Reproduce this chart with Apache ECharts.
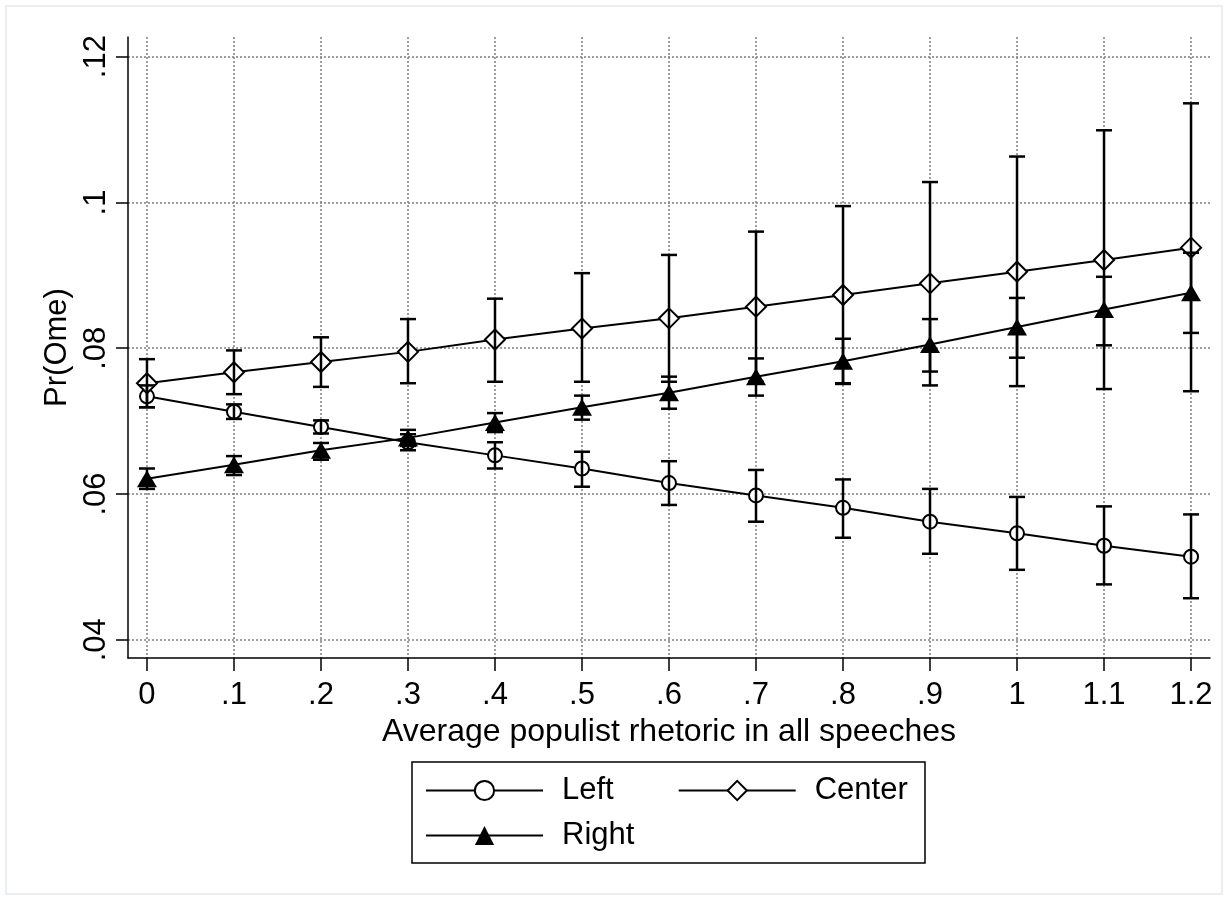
<!DOCTYPE html>
<html>
<head>
<meta charset="utf-8">
<script src="https://cdn.jsdelivr.net/npm/echarts@6/dist/echarts.min.js"></script>
<style>
html,body{margin:0;padding:0;background:#fff;}
#chart{width:1229px;height:901px;}
</style>
</head>
<body>
<div id="chart"></div>
<script>
var xValues = [0, 0.1, 0.2, 0.3, 0.4, 0.5, 0.6, 0.7, 0.8, 0.9, 1.0, 1.1, 1.2];
var xTickLabels = ['0', '.1', '.2', '.3', '.4', '.5', '.6', '.7', '.8', '.9', '1', '1.1', '1.2'];
var yTicks = [0.04, 0.06, 0.08, 0.1, 0.12];
var yTickLabels = ['.04', '.06', '.08', '.1', '.12'];

var leftMean = [0.0734, 0.0713, 0.0692, 0.0671, 0.0653, 0.0635, 0.0615, 0.0598, 0.0581, 0.0562, 0.0546, 0.0529, 0.0514];
var leftLo   = [0.0719, 0.0703, 0.0683, 0.0660, 0.0635, 0.0610, 0.0585, 0.0562, 0.0540, 0.0518, 0.0496, 0.0476, 0.0457];
var leftHi   = [0.0749, 0.0723, 0.0701, 0.0682, 0.0671, 0.0658, 0.0645, 0.0633, 0.0620, 0.0607, 0.0596, 0.0583, 0.0572];

var centerMean = [0.0752, 0.0767, 0.0781, 0.0795, 0.0812, 0.0827, 0.0841, 0.0857, 0.0873, 0.0889, 0.0905, 0.0921, 0.0938];
var centerLo   = [0.0719, 0.0737, 0.0747, 0.0752, 0.0754, 0.0754, 0.0754, 0.0754, 0.0751, 0.0749, 0.0748, 0.0744, 0.0741];
var centerHi   = [0.0785, 0.0797, 0.0815, 0.0840, 0.0868, 0.0903, 0.0928, 0.0960, 0.0995, 0.1028, 0.1063, 0.1099, 0.1136];

var rightMean = [0.0621, 0.0640, 0.0660, 0.0677, 0.0698, 0.0719, 0.0739, 0.0761, 0.0782, 0.0805, 0.0829, 0.0853, 0.0876];
var rightLo   = [0.0607, 0.0626, 0.0647, 0.0666, 0.0685, 0.0702, 0.0717, 0.0735, 0.0752, 0.0768, 0.0787, 0.0804, 0.0821];
var rightHi   = [0.0635, 0.0652, 0.0670, 0.0688, 0.0711, 0.0735, 0.0761, 0.0786, 0.0813, 0.0840, 0.0869, 0.0898, 0.0931];

var FONT = '"Liberation Sans", Arial, Helvetica, sans-serif';
var FS = 31;

function pairs(ys) { return xValues.map(function (x, i) { return [x, ys[i]]; }); }
function bars(lo, hi) { return xValues.map(function (x, i) { return [x, lo[i], hi[i]]; }); }

function renderErr(params, api) {
  var x = api.value(0);
  var p1 = api.coord([x, api.value(1)]);
  var p2 = api.coord([x, api.value(2)]);
  var hw = 8;
  var st = { stroke: '#000', lineWidth: 2.5, fill: null };
  return {
    type: 'group',
    children: [
      { type: 'line', shape: { x1: p1[0], y1: p1[1], x2: p2[0], y2: p2[1] }, style: st },
      { type: 'line', shape: { x1: p1[0] - hw, y1: p1[1], x2: p1[0] + hw, y2: p1[1] }, style: st },
      { type: 'line', shape: { x1: p2[0] - hw, y1: p2[1], x2: p2[0] + hw, y2: p2[1] }, style: st }
    ]
  };
}

var chart = echarts.init(document.getElementById('chart'), null, { renderer: 'canvas' });
var gridStyle = { show: true, lineStyle: { color: '#808080', width: 1.5, type: [2, 2] } };

chart.setOption({
  animation: false,
  backgroundColor: '#fff',
  textStyle: { fontFamily: FONT },
  grid: { left: 128, right: 19, top: 37, bottom: 243 },
  xAxis: {
    type: 'value', min: -0.0218, max: 1.2218,
    name: 'Average populist rhetoric in all speeches',
    nameLocation: 'middle', nameGap: 53,
    nameTextStyle: { fontSize: FS + 1, color: '#000', fontFamily: FONT },
    axisLine: { show: true, onZero: false, lineStyle: { color: '#000', width: 1.5 } },
    axisTick: { show: true, length: 13, lineStyle: { color: '#000', width: 1.5 }, customValues: xValues },
    axisLabel: {
      fontSize: FS, color: '#000', fontFamily: FONT, margin: 22,
      customValues: xValues,
      formatter: function (v) {
        for (var i = 0; i < xValues.length; i++) { if (Math.abs(xValues[i] - v) < 1e-6) return xTickLabels[i]; }
        return '';
      }
    },
    splitLine: gridStyle
  },
  yAxis: {
    type: 'value', min: 0.0375, max: 0.1227,
    name: 'Pr(Ome)', nameLocation: 'middle', nameGap: 54, nameRotate: 90,
    nameTextStyle: { fontSize: FS, color: '#000', fontFamily: FONT },
    axisLine: { show: true, onZero: false, lineStyle: { color: '#000', width: 1.5 } },
    axisTick: { show: true, length: 12, lineStyle: { color: '#000', width: 1.5 }, customValues: yTicks },
    axisLabel: {
      fontSize: FS, color: '#000', fontFamily: FONT, margin: 16, rotate: 90,
      customValues: yTicks,
      formatter: function (v) {
        for (var i = 0; i < yTicks.length; i++) { if (Math.abs(yTicks[i] - v) < 1e-6) return yTickLabels[i]; }
        return '';
      }
    },
    splitLine: gridStyle
  },
  legend: [
    {
      data: ['Left', 'Center'], orient: 'horizontal', left: 425, top: 775, padding: 0,
      itemWidth: 117, itemHeight: 24, itemGap: 64,
      textStyle: { fontSize: FS, color: '#000', fontFamily: FONT, padding: [0, 0, 0, 14] },
      selectedMode: false
    },
    {
      data: ['Right'], orient: 'horizontal', left: 425, top: 820, padding: 0,
      itemWidth: 117, itemHeight: 24,
      textStyle: { fontSize: FS, color: '#000', fontFamily: FONT, padding: [0, 0, 0, 14] },
      selectedMode: false
    }
  ],
  graphic: [
    { type: 'rect', shape: { x: 412, y: 762, width: 513, height: 101 }, style: { fill: null, stroke: '#000', lineWidth: 1.5 }, silent: true },
    { type: 'rect', shape: { x: 6, y: 6, width: 1216, height: 888 }, style: { fill: null, stroke: '#e4e9ed', lineWidth: 1.5 }, silent: true }
  ],
  series: [
    {
      name: 'Left', type: 'line', data: pairs(leftMean), z: 2,
      symbol: 'emptyCircle', symbolSize: 14,
      lineStyle: { color: '#000', width: 2 },
      itemStyle: { color: '#000', borderColor: '#000', borderWidth: 2 }
    },
    {
      name: 'Center', type: 'line', data: pairs(centerMean), z: 2,
      symbol: 'emptyDiamond', symbolSize: 20,
      lineStyle: { color: '#000', width: 2 },
      itemStyle: { color: '#000', borderColor: '#000', borderWidth: 2 }
    },
    {
      name: 'Right', type: 'line', data: pairs(rightMean), z: 2,
      symbol: 'triangle', symbolSize: [20, 17],
      lineStyle: { color: '#000', width: 2 },
      itemStyle: { color: '#000' }
    },
    { name: 'LeftCI', type: 'custom', renderItem: renderErr, data: bars(leftLo, leftHi), z: 3, encode: { x: 0, y: [1, 2] } },
    { name: 'CenterCI', type: 'custom', renderItem: renderErr, data: bars(centerLo, centerHi), z: 3, encode: { x: 0, y: [1, 2] } },
    { name: 'RightCI', type: 'custom', renderItem: renderErr, data: bars(rightLo, rightHi), z: 3, encode: { x: 0, y: [1, 2] } }
  ]
});
</script>
</body>
</html>
